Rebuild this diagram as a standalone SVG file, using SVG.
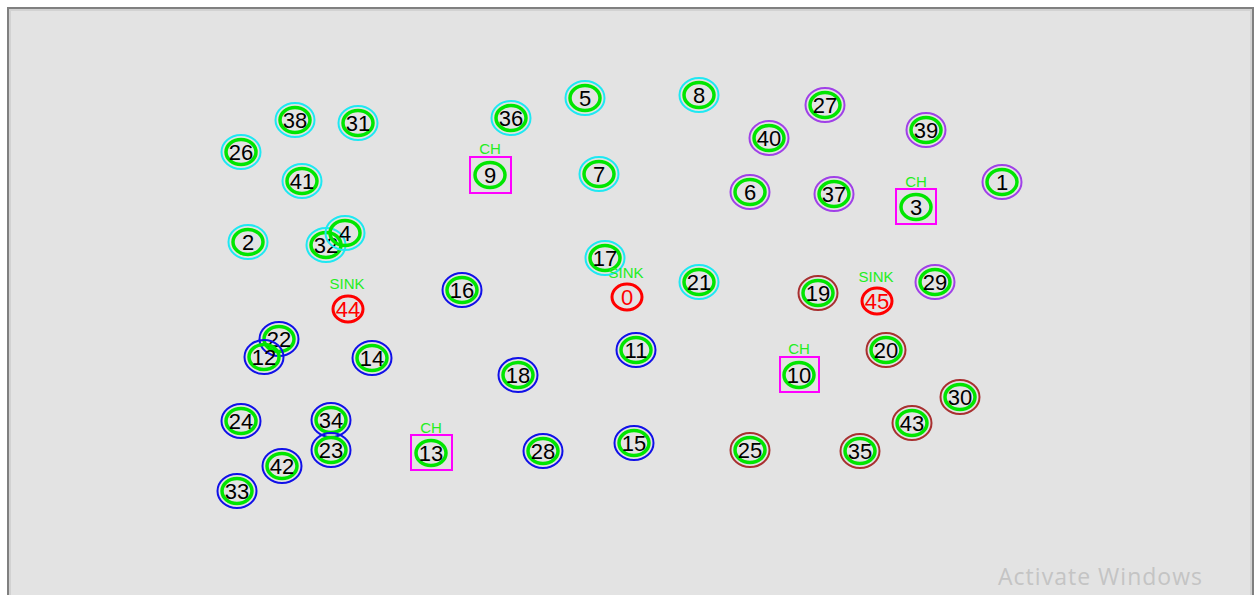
<svg xmlns="http://www.w3.org/2000/svg" width="1256" height="595" viewBox="0 0 1256 595">
<style>
.o{fill:none;stroke-width:2}
.c{stroke:#1ee8f2}.b{stroke:#1010e8}.p{stroke:#a040e8}.r{stroke:#a83030}
.g{fill:none;stroke:#00e600;stroke-width:3.5}
.t{font-family:"Liberation Sans",Arial,sans-serif;font-size:22px;fill:#000;text-anchor:middle}
.box{fill:none;stroke:#ff00ff;stroke-width:2}
.lab{font-family:"Liberation Sans",Arial,sans-serif;font-size:15px;fill:#22ee22;text-anchor:middle}
.sink{fill:none;stroke:#ff0000;stroke-width:3}
.st{font-family:"Liberation Sans",Arial,sans-serif;font-size:22px;fill:#ff0000;text-anchor:middle}
</style>
<defs>
<g id="ring"><ellipse class="g" rx="15" ry="12.5"/></g>
</defs>
<rect x="0" y="0" width="1256" height="595" fill="#ffffff"/>
<rect x="8" y="8" width="1245" height="600" fill="#e3e3e3" stroke="#808080" stroke-width="2"/>
<rect x="10" y="10" width="1241" height="600" fill="none" stroke="#d2d2d2" stroke-width="2"/>
<g id="connectors"/>
<g id="n38"><ellipse class="o c" cx="295" cy="120" rx="19.5" ry="17"/><use href="#ring" x="295" y="120"/><text class="t" x="295" y="128">38</text></g>
<g id="n31"><ellipse class="o c" cx="358" cy="123" rx="19.5" ry="17"/><use href="#ring" x="358" y="123"/><text class="t" x="358" y="131">31</text></g>
<g id="n26"><ellipse class="o c" cx="241" cy="152" rx="19.5" ry="17"/><use href="#ring" x="241" y="152"/><text class="t" x="241" y="160">26</text></g>
<g id="n41"><ellipse class="o c" cx="302" cy="181" rx="19.5" ry="17"/><use href="#ring" x="302" y="181"/><text class="t" x="302" y="189">41</text></g>
<g id="n36"><ellipse class="o c" cx="511" cy="118" rx="19.5" ry="17"/><use href="#ring" x="511" y="118"/><text class="t" x="511" y="126">36</text></g>
<g id="n5"><ellipse class="o c" cx="585" cy="98" rx="19.5" ry="17"/><use href="#ring" x="585" y="98"/><text class="t" x="585" y="106">5</text></g>
<g id="n8"><ellipse class="o c" cx="699" cy="95" rx="19.5" ry="17"/><use href="#ring" x="699" y="95"/><text class="t" x="699" y="103">8</text></g>
<g id="n7"><ellipse class="o c" cx="599" cy="174" rx="19.5" ry="17"/><use href="#ring" x="599" y="174"/><text class="t" x="599" y="182">7</text></g>
<g id="n2"><ellipse class="o c" cx="248" cy="242" rx="19.5" ry="17"/><use href="#ring" x="248" y="242"/><text class="t" x="248" y="250">2</text></g>
<g id="n32"><ellipse class="o c" cx="326" cy="245" rx="19.5" ry="17"/><use href="#ring" x="326" y="245"/><text class="t" x="326" y="253">32</text></g>
<g id="n4"><ellipse class="o c" cx="345" cy="233" rx="19.5" ry="17"/><use href="#ring" x="345" y="233"/><text class="t" x="345" y="241">4</text></g>
<g id="n17"><ellipse class="o c" cx="605" cy="258" rx="19.5" ry="17"/><use href="#ring" x="605" y="258"/><text class="t" x="605" y="266">17</text></g>
<g id="n21"><ellipse class="o c" cx="699" cy="282" rx="19.5" ry="17"/><use href="#ring" x="699" y="282"/><text class="t" x="699" y="290">21</text></g>
<g id="n27"><ellipse class="o p" cx="825" cy="105" rx="19.5" ry="17"/><use href="#ring" x="825" y="105"/><text class="t" x="825" y="113">27</text></g>
<g id="n40"><ellipse class="o p" cx="769" cy="138" rx="19.5" ry="17"/><use href="#ring" x="769" y="138"/><text class="t" x="769" y="146">40</text></g>
<g id="n39"><ellipse class="o p" cx="926" cy="130" rx="19.5" ry="17"/><use href="#ring" x="926" y="130"/><text class="t" x="926" y="138">39</text></g>
<g id="n6"><ellipse class="o p" cx="750" cy="192" rx="19.5" ry="17"/><use href="#ring" x="750" y="192"/><text class="t" x="750" y="200">6</text></g>
<g id="n37"><ellipse class="o p" cx="834" cy="194" rx="19.5" ry="17"/><use href="#ring" x="834" y="194"/><text class="t" x="834" y="202">37</text></g>
<g id="n1"><ellipse class="o p" cx="1002" cy="182" rx="19.5" ry="17"/><use href="#ring" x="1002" y="182"/><text class="t" x="1002" y="190">1</text></g>
<g id="n29"><ellipse class="o p" cx="935" cy="282" rx="19.5" ry="17"/><use href="#ring" x="935" y="282"/><text class="t" x="935" y="290">29</text></g>
<g id="n16"><ellipse class="o b" cx="462" cy="290" rx="19.5" ry="17"/><use href="#ring" x="462" y="290"/><text class="t" x="462" y="298">16</text></g>
<g id="n22"><ellipse class="o b" cx="279" cy="339" rx="19.5" ry="17"/><use href="#ring" x="279" y="339"/><text class="t" x="279" y="347">22</text></g>
<g id="n12"><ellipse class="o b" cx="264" cy="357" rx="19.5" ry="17"/><use href="#ring" x="264" y="357"/><text class="t" x="264" y="365">12</text></g>
<g id="n14"><ellipse class="o b" cx="372" cy="358" rx="19.5" ry="17"/><use href="#ring" x="372" y="358"/><text class="t" x="372" y="366">14</text></g>
<g id="n11"><ellipse class="o b" cx="636" cy="350" rx="19.5" ry="17"/><use href="#ring" x="636" y="350"/><text class="t" x="636" y="358">11</text></g>
<g id="n18"><ellipse class="o b" cx="518" cy="375" rx="19.5" ry="17"/><use href="#ring" x="518" y="375"/><text class="t" x="518" y="383">18</text></g>
<g id="n24"><ellipse class="o b" cx="241" cy="421" rx="19.5" ry="17"/><use href="#ring" x="241" y="421"/><text class="t" x="241" y="429">24</text></g>
<g id="n34"><ellipse class="o b" cx="331" cy="420" rx="19.5" ry="17"/><use href="#ring" x="331" y="420"/><text class="t" x="331" y="428">34</text></g>
<g id="n23"><ellipse class="o b" cx="331" cy="450" rx="19.5" ry="17"/><use href="#ring" x="331" y="450"/><text class="t" x="331" y="458">23</text></g>
<g id="n28"><ellipse class="o b" cx="543" cy="451" rx="19.5" ry="17"/><use href="#ring" x="543" y="451"/><text class="t" x="543" y="459">28</text></g>
<g id="n15"><ellipse class="o b" cx="634" cy="443" rx="19.5" ry="17"/><use href="#ring" x="634" y="443"/><text class="t" x="634" y="451">15</text></g>
<g id="n42"><ellipse class="o b" cx="282" cy="466" rx="19.5" ry="17"/><use href="#ring" x="282" y="466"/><text class="t" x="282" y="474">42</text></g>
<g id="n33"><ellipse class="o b" cx="237" cy="491" rx="19.5" ry="17"/><use href="#ring" x="237" y="491"/><text class="t" x="237" y="499">33</text></g>
<g id="n19"><ellipse class="o r" cx="818" cy="293" rx="19.5" ry="17"/><use href="#ring" x="818" y="293"/><text class="t" x="818" y="301">19</text></g>
<g id="n20"><ellipse class="o r" cx="886" cy="350" rx="19.5" ry="17"/><use href="#ring" x="886" y="350"/><text class="t" x="886" y="358">20</text></g>
<g id="n30"><ellipse class="o r" cx="960" cy="397" rx="19.5" ry="17"/><use href="#ring" x="960" y="397"/><text class="t" x="960" y="405">30</text></g>
<g id="n43"><ellipse class="o r" cx="912" cy="423" rx="19.5" ry="17"/><use href="#ring" x="912" y="423"/><text class="t" x="912" y="431">43</text></g>
<g id="n25"><ellipse class="o r" cx="750" cy="450" rx="19.5" ry="17"/><use href="#ring" x="750" y="450"/><text class="t" x="750" y="458">25</text></g>
<g id="n35"><ellipse class="o r" cx="860" cy="451" rx="19.5" ry="17"/><use href="#ring" x="860" y="451"/><text class="t" x="860" y="459">35</text></g>
<g id="n9"><text class="lab" x="490" y="154">CH</text><rect class="box" x="470" y="157" width="41" height="36"/><use href="#ring" x="490" y="175"/><text class="t" x="490" y="183">9</text></g>
<g id="n3"><text class="lab" x="916" y="187">CH</text><rect class="box" x="896" y="189" width="40" height="35"/><use href="#ring" x="916" y="207"/><text class="t" x="916" y="215">3</text></g>
<g id="n10"><text class="lab" x="799" y="354">CH</text><rect class="box" x="780" y="357" width="39" height="35"/><use href="#ring" x="799" y="375"/><text class="t" x="799" y="383">10</text></g>
<g id="n13"><text class="lab" x="431" y="433">CH</text><rect class="box" x="411" y="435" width="41" height="35"/><use href="#ring" x="431" y="453"/><text class="t" x="431" y="461">13</text></g>
<g id="n44"><text class="lab" x="347" y="289">SINK</text><ellipse class="sink" cx="348" cy="309" rx="15" ry="13"/><text class="st" x="348" y="317">44</text></g>
<g id="n0"><text class="lab" x="626" y="278">SINK</text><ellipse class="sink" cx="627" cy="297" rx="15" ry="13"/><text class="st" x="627" y="305">0</text></g>
<g id="n45"><text class="lab" x="876" y="282">SINK</text><ellipse class="sink" cx="877" cy="301" rx="15" ry="13"/><text class="st" x="877" y="309">45</text></g>
<text x="998" y="585" font-family="'Open Sans','Noto Sans',sans-serif" font-size="23" fill="#c4c4c4" textLength="204">Activate Windows</text>
</svg>
